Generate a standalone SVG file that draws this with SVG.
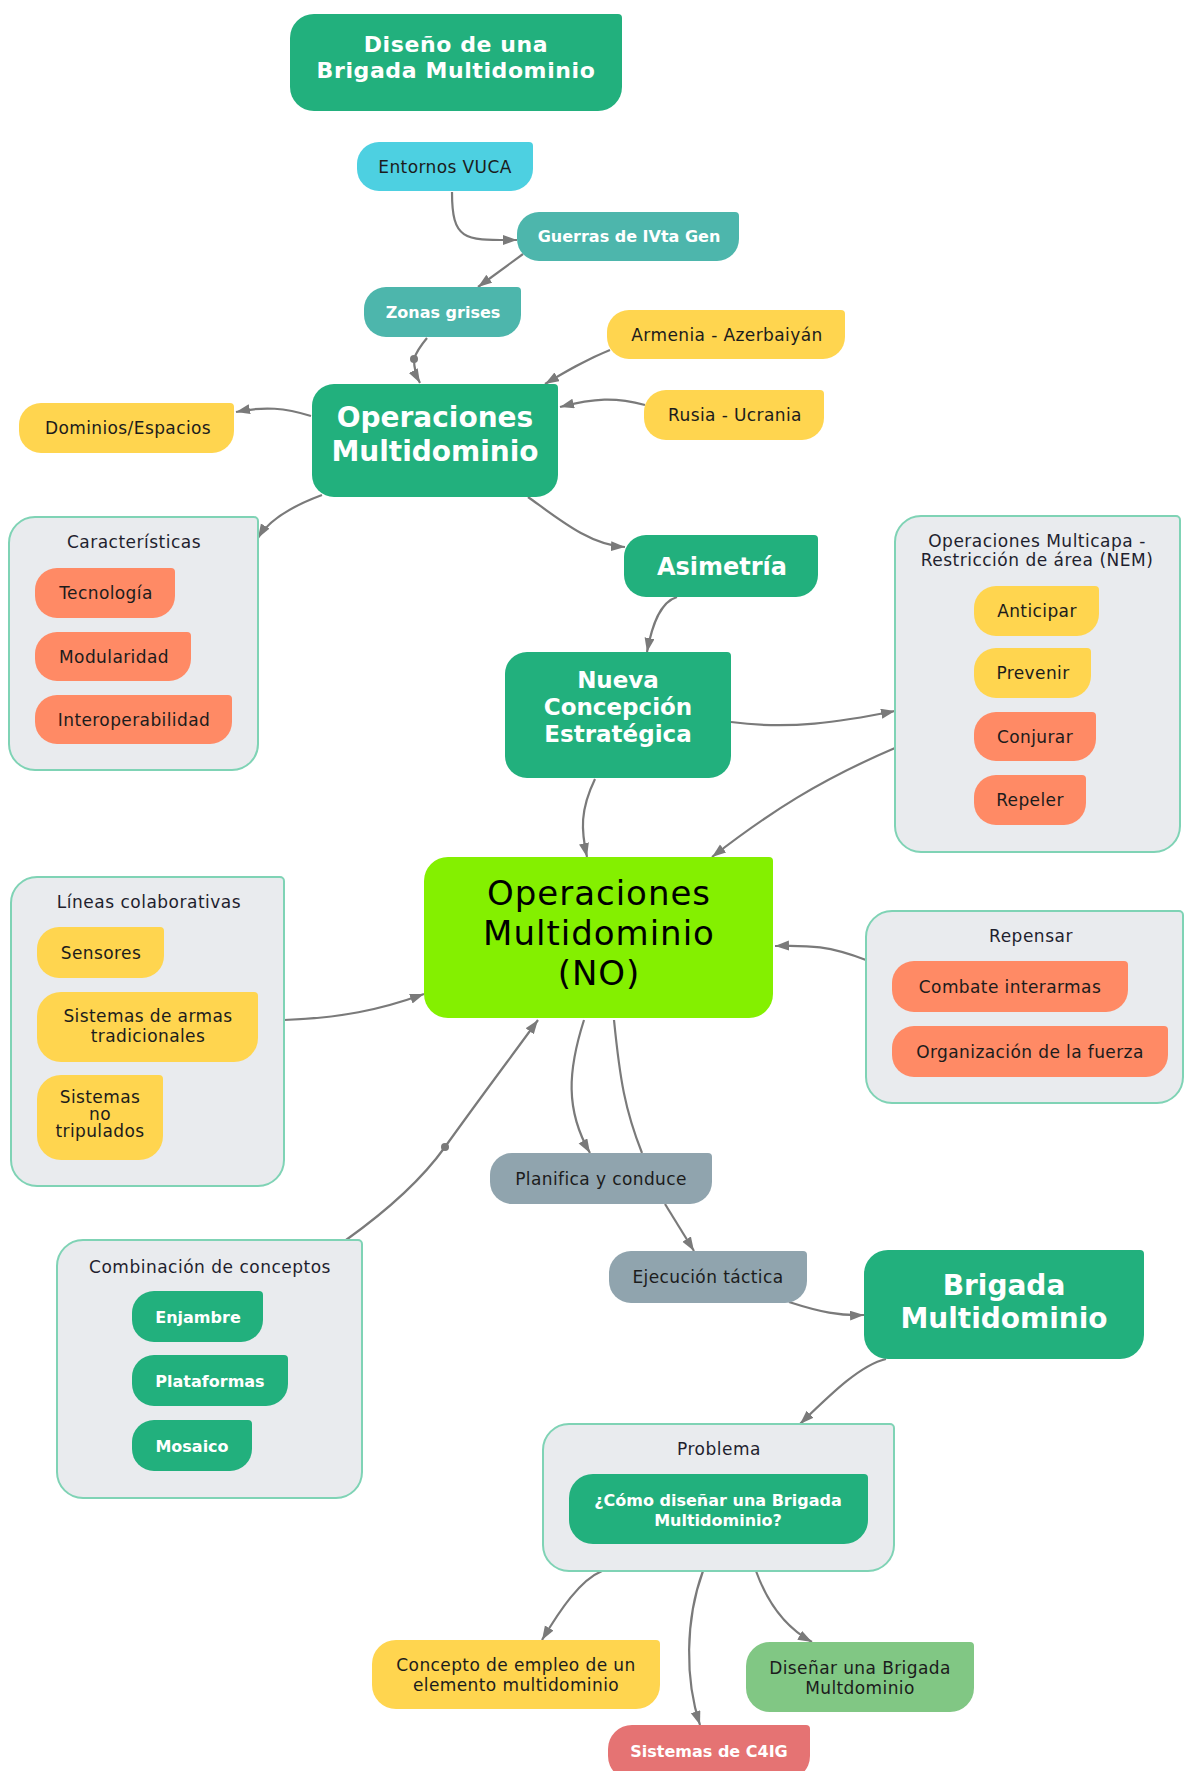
<svg xmlns="http://www.w3.org/2000/svg" width="1185" height="1771" viewBox="0 0 1185 1771">
  <style>
    text { font-family: "DejaVu Sans", "Noto Sans", sans-serif; text-anchor: middle; }
    .s { font-size: 17px; font-weight: 400; letter-spacing: .4px; fill: #1c1c1c; }
    .w { font-size: 16px; font-weight: 700; letter-spacing: 0; fill: #ffffff; }
    .ct { font-size: 17px; font-weight: 400; letter-spacing: .5px; fill: #1f1f2e; }
    .big { font-weight: 700; fill: #ffffff; }
    .dg { fill: #22b07d; }
    .tl { fill: #4db6ac; }
    .cy { fill: #4dd0e1; }
    .ye { fill: #ffd54f; }
    .sa { fill: #ff8a65; }
    .gr { fill: #90a4ae; }
    .lg { fill: #81c784; }
    .rd { fill: #e57373; }
    .bg { fill: #84f000; }
    .box { fill: #e9ebee; stroke: #7fd3b5; stroke-width: 2; }
    .edge { fill: none; stroke: #7a7a7a; stroke-width: 2.2; }
    .arr { marker-end: url(#head); }
  </style>
  <defs>
    <marker id="head" markerUnits="userSpaceOnUse" markerWidth="15" markerHeight="12" refX="14" refY="5" orient="auto">
      <path d="M0 0L14 5L0 10Z" fill="#7a7a7a"/>
    </marker>
  </defs>

  <rect width="1185" height="1771" fill="#ffffff"/>

  <!-- connectors -->
  <g id="connectors">
    <path class="edge arr" d="M452 192C452 242 465 240 517 240"/>
    <path class="edge arr" d="M523 254L478 287"/>
    <path class="edge arr" d="M427 338Q417 350 414 359Q414 372 420 383"/>
    <circle cx="414" cy="359" r="4" fill="#7a7a7a"/>
    <path class="edge arr" d="M610 350C585 360 565 372 545 384"/>
    <path class="edge arr" d="M645 405C615 397 595 398 560 407"/>
    <path class="edge arr" d="M311 416C285 408 265 406 236 412"/>
    <path class="edge arr" d="M322 495C295 505 270 518 258 538"/>
    <path class="edge arr" d="M528 497C560 520 590 545 625 547"/>
    <path class="edge arr" d="M677 597C660 602 652 625 647 652"/>
    <path class="edge arr" d="M731 722C790 730 840 722 895 711"/>
    <path class="edge arr" d="M895 748C820 780 770 812 712 857"/>
    <path class="edge arr" d="M595 779C580 810 581 830 587 857"/>
    <path class="edge arr" d="M866 960C830 946 810 945 775 946"/>
    <path class="edge arr" d="M284 1020C340 1018 380 1010 424 994"/>
    <path class="edge arr" d="M346 1240C395 1205 425 1175 445 1147C475 1105 505 1065 538 1020"/>
    <circle cx="445" cy="1147" r="4" fill="#7a7a7a"/>
    <path class="edge arr" d="M584 1020C568 1070 565 1110 590 1153"/>
    <path class="edge" d="M614 1020C620 1080 625 1110 642 1153"/>
    <path class="edge arr" d="M665 1204L694 1251"/>
    <path class="edge arr" d="M789 1302C820 1312 840 1316 864 1315"/>
    <path class="edge arr" d="M886 1359C860 1365 830 1395 800 1424"/>
    <path class="edge arr" d="M602 1571C580 1580 560 1610 542 1640"/>
    <path class="edge arr" d="M703 1571C685 1620 685 1680 700 1725"/>
    <path class="edge arr" d="M756 1571C770 1610 790 1630 812 1642"/>
  </g>

  <!-- title -->
  <g id="title">
    <path class="dg" d="M314 14H618A4 4 0 0 1 622 18V87A24 24 0 0 1 598 111H314A24 24 0 0 1 290 87V38A24 24 0 0 1 314 14Z"/>
    <text class="big" font-size="22" letter-spacing=".6" x="456" y="52">Diseño de una<tspan x="456" dy="26">Brigada Multidominio</tspan></text>
  </g>

  <g id="entornos-vuca">
    <path class="cy" d="M379 142H529A4 4 0 0 1 533 146V169A22 22 0 0 1 511 191H379A22 22 0 0 1 357 169V164A22 22 0 0 1 379 142Z"/>
    <text class="s" x="445" y="173">Entornos VUCA</text>
  </g>

  <g id="guerras">
    <path class="tl" d="M539 212H735A4 4 0 0 1 739 216V239A22 22 0 0 1 717 261H539A22 22 0 0 1 517 239V234A22 22 0 0 1 539 212Z"/>
    <text class="w" x="629" y="242">Guerras de IVta Gen</text>
  </g>

  <g id="zonas-grises">
    <path class="tl" d="M386 287H517A4 4 0 0 1 521 291V315A22 22 0 0 1 499 337H386A22 22 0 0 1 364 315V309A22 22 0 0 1 386 287Z"/>
    <text class="w" x="443" y="318">Zonas grises</text>
  </g>

  <g id="armenia">
    <path class="ye" d="M629 310H841A4 4 0 0 1 845 314V337A22 22 0 0 1 823 359H629A22 22 0 0 1 607 337V332A22 22 0 0 1 629 310Z"/>
    <text class="s" x="727" y="341">Armenia - Azerbaiyán</text>
  </g>

  <g id="rusia">
    <path class="ye" d="M666 390H820A4 4 0 0 1 824 394V418A22 22 0 0 1 802 440H666A22 22 0 0 1 644 418V412A22 22 0 0 1 666 390Z"/>
    <text class="s" x="735" y="421">Rusia - Ucrania</text>
  </g>

  <g id="dominios">
    <path class="ye" d="M41 403H230A4 4 0 0 1 234 407V431A22 22 0 0 1 212 453H41A22 22 0 0 1 19 431V425A22 22 0 0 1 41 403Z"/>
    <text class="s" x="128" y="434">Dominios/Espacios</text>
  </g>

  <g id="operaciones-multidominio">
    <path class="dg" d="M334 384H554A4 4 0 0 1 558 388V475A22 22 0 0 1 536 497H334A22 22 0 0 1 312 475V406A22 22 0 0 1 334 384Z"/>
    <text class="big" font-size="28" x="435" y="427">Operaciones<tspan x="435" dy="34">Multidominio</tspan></text>
  </g>

  <g id="caracteristicas">
    <path class="box" d="M35 517H254A4 4 0 0 1 258 521V744A26 26 0 0 1 232 770H35A26 26 0 0 1 9 744V543A26 26 0 0 1 35 517Z"/>
    <text class="ct" x="134" y="548">Características</text>
    <path class="sa" d="M57 568H171A4 4 0 0 1 175 572V596A22 22 0 0 1 153 618H57A22 22 0 0 1 35 596V590A22 22 0 0 1 57 568Z"/>
    <text class="s" x="106" y="599">Tecnología</text>
    <path class="sa" d="M57 632H187A4 4 0 0 1 191 636V659A22 22 0 0 1 169 681H57A22 22 0 0 1 35 659V654A22 22 0 0 1 57 632Z"/>
    <text class="s" x="114" y="663">Modularidad</text>
    <path class="sa" d="M57 695H228A4 4 0 0 1 232 699V722A22 22 0 0 1 210 744H57A22 22 0 0 1 35 722V717A22 22 0 0 1 57 695Z"/>
    <text class="s" x="134" y="726">Interoperabilidad</text>
  </g>

  <g id="asimetria">
    <path class="dg" d="M646 535H814A4 4 0 0 1 818 539V575A22 22 0 0 1 796 597H646A22 22 0 0 1 624 575V557A22 22 0 0 1 646 535Z"/>
    <text class="big" font-size="24" x="722" y="575">Asimetría</text>
  </g>

  <g id="nueva-concepcion">
    <path class="dg" d="M527 652H727A4 4 0 0 1 731 656V756A22 22 0 0 1 709 778H527A22 22 0 0 1 505 756V674A22 22 0 0 1 527 652Z"/>
    <text class="big" font-size="23" x="618" y="688">Nueva<tspan x="618" dy="27">Concepción</tspan><tspan x="618" dy="27">Estratégica</tspan></text>
  </g>

  <g id="multicapa">
    <path class="box" d="M921 516H1176A4 4 0 0 1 1180 520V826A26 26 0 0 1 1154 852H921A26 26 0 0 1 895 826V542A26 26 0 0 1 921 516Z"/>
    <text class="ct" font-size="16" letter-spacing=".8" x="1037" y="547">Operaciones Multicapa -<tspan x="1037" dy="19">Restricción de área (NEM)</tspan></text>
    <path class="ye" d="M996 586H1095A4 4 0 0 1 1099 590V614A22 22 0 0 1 1077 636H996A22 22 0 0 1 974 614V608A22 22 0 0 1 996 586Z"/>
    <text class="s" x="1037" y="617">Anticipar</text>
    <path class="ye" d="M996 648H1087A4 4 0 0 1 1091 652V676A22 22 0 0 1 1069 698H996A22 22 0 0 1 974 676V670A22 22 0 0 1 996 648Z"/>
    <text class="s" x="1033" y="679">Prevenir</text>
    <path class="sa" d="M996 712H1092A4 4 0 0 1 1096 716V739A22 22 0 0 1 1074 761H996A22 22 0 0 1 974 739V734A22 22 0 0 1 996 712Z"/>
    <text class="s" x="1035" y="743">Conjurar</text>
    <path class="sa" d="M996 775H1082A4 4 0 0 1 1086 779V803A22 22 0 0 1 1064 825H996A22 22 0 0 1 974 803V797A22 22 0 0 1 996 775Z"/>
    <text class="s" x="1030" y="806">Repeler</text>
  </g>

  <g id="operaciones-multidominio-no">
    <path class="bg" d="M448 857H769A4 4 0 0 1 773 861V994A24 24 0 0 1 749 1018H448A24 24 0 0 1 424 994V881A24 24 0 0 1 448 857Z"/>
    <text font-size="34" font-weight="400" letter-spacing="1" fill="#000" x="599" y="905">Operaciones<tspan x="599" dy="40">Multidominio</tspan><tspan x="599" dy="40">(NO)</tspan></text>
  </g>

  <g id="lineas-colaborativas">
    <path class="box" d="M37 877H280A4 4 0 0 1 284 881V1160A26 26 0 0 1 258 1186H37A26 26 0 0 1 11 1160V903A26 26 0 0 1 37 877Z"/>
    <text class="ct" x="149" y="908">Líneas colaborativas</text>
    <path class="ye" d="M59 927H160A4 4 0 0 1 164 931V956A22 22 0 0 1 142 978H59A22 22 0 0 1 37 956V949A22 22 0 0 1 59 927Z"/>
    <text class="s" x="101" y="959">Sensores</text>
    <path class="ye" d="M61 992H254A4 4 0 0 1 258 996V1038A24 24 0 0 1 234 1062H61A24 24 0 0 1 37 1038V1016A24 24 0 0 1 61 992Z"/>
    <text class="s" x="148" y="1022">Sistemas de armas<tspan x="148" dy="20">tradicionales</tspan></text>
    <path class="ye" d="M61 1075H159A4 4 0 0 1 163 1079V1136A24 24 0 0 1 139 1160H61A24 24 0 0 1 37 1136V1099A24 24 0 0 1 61 1075Z"/>
    <text class="s" font-size="14" x="100" y="1103">Sistemas<tspan x="100" dy="17">no</tspan><tspan x="100" dy="17">tripulados</tspan></text>
  </g>

  <g id="combinacion-conceptos">
    <path class="box" d="M83 1240H358A4 4 0 0 1 362 1244V1472A26 26 0 0 1 336 1498H83A26 26 0 0 1 57 1472V1266A26 26 0 0 1 83 1240Z"/>
    <text class="ct" x="210" y="1273">Combinación de conceptos</text>
    <path class="dg" d="M154 1291H259A4 4 0 0 1 263 1295V1320A22 22 0 0 1 241 1342H154A22 22 0 0 1 132 1320V1313A22 22 0 0 1 154 1291Z"/>
    <text class="w" x="198" y="1323">Enjambre</text>
    <path class="dg" d="M154 1355H284A4 4 0 0 1 288 1359V1384A22 22 0 0 1 266 1406H154A22 22 0 0 1 132 1384V1377A22 22 0 0 1 154 1355Z"/>
    <text class="w" x="210" y="1387">Plataformas</text>
    <path class="dg" d="M154 1420H248A4 4 0 0 1 252 1424V1449A22 22 0 0 1 230 1471H154A22 22 0 0 1 132 1449V1442A22 22 0 0 1 154 1420Z"/>
    <text class="w" x="192" y="1452">Mosaico</text>
  </g>

  <g id="repensar">
    <path class="box" d="M892 911H1179A4 4 0 0 1 1183 915V1077A26 26 0 0 1 1157 1103H892A26 26 0 0 1 866 1077V937A26 26 0 0 1 892 911Z"/>
    <text class="ct" x="1031" y="942">Repensar</text>
    <path class="sa" d="M914 961H1124A4 4 0 0 1 1128 965V990A22 22 0 0 1 1106 1012H914A22 22 0 0 1 892 990V983A22 22 0 0 1 914 961Z"/>
    <text class="s" x="1010" y="993">Combate interarmas</text>
    <path class="sa" d="M914 1026H1164A4 4 0 0 1 1168 1030V1055A22 22 0 0 1 1146 1077H914A22 22 0 0 1 892 1055V1048A22 22 0 0 1 914 1026Z"/>
    <text class="s" x="1030" y="1058">Organización de la fuerza</text>
  </g>

  <g id="planifica">
    <path class="gr" d="M512 1153H708A4 4 0 0 1 712 1157V1182A22 22 0 0 1 690 1204H512A22 22 0 0 1 490 1182V1175A22 22 0 0 1 512 1153Z"/>
    <text class="s" x="601" y="1185">Planifica y conduce</text>
  </g>

  <g id="ejecucion">
    <path class="gr" d="M631 1251H803A4 4 0 0 1 807 1255V1281A22 22 0 0 1 785 1303H631A22 22 0 0 1 609 1281V1273A22 22 0 0 1 631 1251Z"/>
    <text class="s" x="708" y="1283">Ejecución táctica</text>
  </g>

  <g id="brigada-multidominio">
    <path class="dg" d="M888 1250H1140A4 4 0 0 1 1144 1254V1335A24 24 0 0 1 1120 1359H888A24 24 0 0 1 864 1335V1274A24 24 0 0 1 888 1250Z"/>
    <text class="big" font-size="28" x="1004" y="1295">Brigada<tspan x="1004" dy="33">Multidominio</tspan></text>
  </g>

  <g id="problema">
    <path class="box" d="M569 1424H890A4 4 0 0 1 894 1428V1545A26 26 0 0 1 868 1571H569A26 26 0 0 1 543 1545V1450A26 26 0 0 1 569 1424Z"/>
    <text class="ct" x="719" y="1455">Problema</text>
    <path class="dg" d="M593 1474H864A4 4 0 0 1 868 1478V1520A24 24 0 0 1 844 1544H593A24 24 0 0 1 569 1520V1498A24 24 0 0 1 593 1474Z"/>
    <text class="w" font-size="16.5" x="718" y="1506">¿Cómo diseñar una Brigada<tspan x="718" dy="20">Multidominio?</tspan></text>
  </g>

  <g id="concepto-empleo">
    <path class="ye" d="M396 1640H656A4 4 0 0 1 660 1644V1685A24 24 0 0 1 636 1709H396A24 24 0 0 1 372 1685V1664A24 24 0 0 1 396 1640Z"/>
    <text class="s" x="516" y="1671">Concepto de empleo de un<tspan x="516" dy="20">elemento multidominio</tspan></text>
  </g>

  <g id="disenar-brigada">
    <path class="lg" d="M770 1642H970A4 4 0 0 1 974 1646V1688A24 24 0 0 1 950 1712H770A24 24 0 0 1 746 1688V1666A24 24 0 0 1 770 1642Z"/>
    <text class="s" x="860" y="1674">Diseñar una Brigada<tspan x="860" dy="20">Multdominio</tspan></text>
  </g>

  <g id="sistemas-c4ig">
    <path class="rd" d="M632 1725H806A4 4 0 0 1 810 1729V1756A24 24 0 0 1 786 1780H632A24 24 0 0 1 608 1756V1749A24 24 0 0 1 632 1725Z"/>
    <text class="w" x="709" y="1757">Sistemas de C4IG</text>
  </g>
</svg>
